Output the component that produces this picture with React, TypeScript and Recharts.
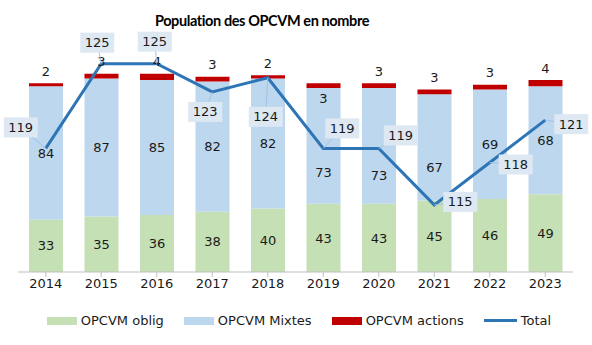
import * as React from 'react';
import { Bar, ComposedChart, LabelList, Line, XAxis, YAxis } from 'recharts';

const years = ['2014', '2015', '2016', '2017', '2018', '2019', '2020', '2021', '2022', '2023'];
const oblig = [33, 35, 36, 38, 40, 43, 43, 45, 46, 49];
const mixtes = [84, 87, 85, 82, 82, 73, 73, 67, 69, 68];
const actions = [2, 3, 4, 3, 2, 3, 3, 3, 3, 4];
const total = [119, 125, 125, 123, 124, 119, 119, 115, 118, 121];

const GREEN = '#c5e0b4';
const BLUE = '#bdd7ee';
const RED = '#c00000';
const LINE = '#2e75b6';
const FONT = '"DejaVu Sans", sans-serif';
const TEXT = '#1a1a1a';

// hand-placed label nudges, as in the original workbook
const totalLabelOffset: [number, number][] = [
  [-25, -21], [-4, -21], [-2, -22], [-7, 20], [-2, 39],
  [19, -20], [22, -13], [26, -3], [26, 2], [26, 4],
];
const mixtesLabelShift = [0, 0, 0, 0, 0, 27, 30, 20, 0, 0];
const actionsLabelShift = [0, 0, 0, 0, 0, 27, 0, 0, 0, 0];

function TotalLabel(props: any) {
  const { x, y, value, index } = props;
  const [dx, dy] = totalLabelOffset[index] ?? [0, -20];
  const cx = x + dx;
  const cy = y + dy;
  return (
    <g>
      <line x1={x} y1={y} x2={cx} y2={cy} stroke="#9dc3e6" strokeWidth={1} />
      <rect x={cx - 17} y={cy - 10} width={34} height={20} fill="#dde8f3" />
      <text x={cx} y={cy} textAnchor="middle" dominantBaseline="central" fontSize={13} fontFamily={FONT} fill={TEXT}>
        {value}
      </text>
    </g>
  );
}

function MixtesLabel(props: any) {
  const { x, y, width, height, value, index } = props;
  return (
    <text
      x={x + width / 2}
      y={y + height / 2 + (mixtesLabelShift[index] ?? 0)}
      textAnchor="middle"
      dominantBaseline="central"
      fontSize={13}
      fontFamily={FONT}
      fill={TEXT}
    >
      {value}
    </text>
  );
}

function ActionsLabel(props: any) {
  const { x, y, width, value, index } = props;
  return (
    <text
      x={x + width / 2}
      y={y - 12 + (actionsLabelShift[index] ?? 0)}
      textAnchor="middle"
      dominantBaseline="central"
      fontSize={13}
      fontFamily={FONT}
      fill={TEXT}
    >
      {value}
    </text>
  );
}

const legendItems = [
  { name: 'OPCVM oblig', color: GREEN, line: false },
  { name: 'OPCVM Mixtes', color: BLUE, line: false },
  { name: 'OPCVM actions', color: RED, line: false },
  { name: 'Total', color: LINE, line: true },
];

export default function App() {
  const data = years.map((year, i) => ({
    year,
    oblig: oblig[i],
    mixtes: mixtes[i],
    actions: actions[i],
    total: total[i],
  }));

  const labelStyle = { fontSize: 13, fontFamily: FONT, fill: TEXT };

  return (
    <div style={{ position: 'absolute', left: 0, top: 0, width: 592, height: 345, background: '#fff' }}>
      <div
        style={{
          position: 'absolute',
          left: 0,
          width: 524,
          top: 12,
          textAlign: 'center',
          fontFamily: 'Lato, sans-serif',
          fontWeight: 700,
          fontSize: 14.5,
          letterSpacing: -0.4,
          color: '#000',
        }}
      >
        Population des OPCVM en nombre
      </div>
      <ComposedChart
        width={592}
        height={345}
        data={data}
        margin={{ top: 34, right: 19, left: 18, bottom: 43 }}
        barSize={34}
      >
        <XAxis
          dataKey="year"
          height={30}
          axisLine={{ stroke: '#bfbfbf' }}
          tickLine={{ stroke: '#bfbfbf' }}
          tickSize={5}
          tick={{ fontSize: 13, fontFamily: FONT, fill: TEXT }}
          interval={0}
        />
        <YAxis yAxisId="left" hide domain={[0, 150]} />
        <YAxis yAxisId="right" hide orientation="right" domain={[110.25, 127.1]} allowDataOverflow />
        <Bar yAxisId="left" dataKey="oblig" stackId="a" fill={GREEN} isAnimationActive={false}>
          <LabelList dataKey="oblig" position="center" style={labelStyle} />
        </Bar>
        <Bar yAxisId="left" dataKey="mixtes" stackId="a" fill={BLUE} isAnimationActive={false}>
          <LabelList dataKey="mixtes" content={MixtesLabel} />
        </Bar>
        <Bar yAxisId="left" dataKey="actions" stackId="a" fill={RED} isAnimationActive={false}>
          <LabelList dataKey="actions" content={ActionsLabel} />
        </Bar>
        <Line
          yAxisId="right"
          dataKey="total"
          stroke={LINE}
          strokeWidth={3}
          dot={false}
          isAnimationActive={false}
        >
          <LabelList dataKey="total" content={TotalLabel} />
        </Line>
      </ComposedChart>
      <div
        style={{
          position: 'absolute',
          top: 313,
          left: 0,
          width: 592,
          display: 'flex',
          justifyContent: 'center',
          gap: 20,
          fontFamily: FONT,
          fontSize: 13,
          color: TEXT,
          paddingLeft: 6,
          boxSizing: 'border-box',
        }}
      >
        {legendItems.map((item) => (
          <div key={item.name} style={{ display: 'flex', alignItems: 'center', gap: 4 }}>
            <div
              style={{
                width: item.line ? 33 : 30,
                height: item.line ? 3 : 8,
                background: item.color,
              }}
            />
            <span>{item.name}</span>
          </div>
        ))}
      </div>
    </div>
  );
}
